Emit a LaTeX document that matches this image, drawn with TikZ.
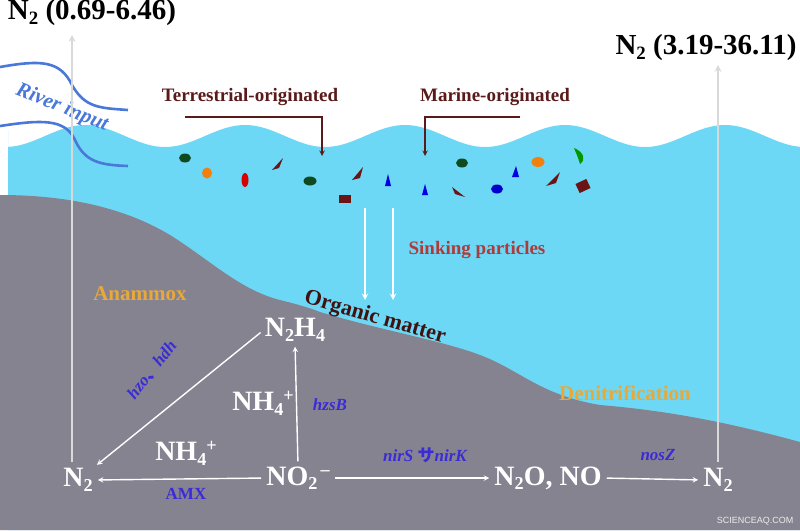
\documentclass[tikz,border=0pt]{standalone}
\usepackage{fontspec}
\setmainfont{Liberation Serif}
\newfontfamily\cjkjp{Noto Sans CJK JP}
\newfontfamily\sansf{Liberation Sans}
\newcommand{\sbs}[1]{\raisebox{-0.35ex}{\scalebox{0.65}{#1}}}
\newcommand{\sps}[1]{\raisebox{0.75ex}{\scalebox{0.65}{#1}}}
\definecolor{water}{HTML}{6DD8F5}
\definecolor{ground}{HTML}{858390}
\definecolor{brownt}{HTML}{5A1A1A}
\definecolor{redt}{HTML}{B03A3A}
\definecolor{oranget}{HTML}{E8A83A}
\definecolor{bluet}{HTML}{3A2AD8}
\definecolor{rivert}{HTML}{4A78D8}
\definecolor{pgreen}{HTML}{0E4A1E}
\definecolor{pdark}{HTML}{6A1414}
\begin{document}
\begin{tikzpicture}[x=1pt,y=-1pt,
  chem/.style={text=white,font=\fontsize{28}{30}\selectfont\bfseries,inner sep=1pt},
  gene/.style={text=bluet,font=\fontsize{17}{19}\selectfont\bfseries\itshape},
  lbl/.style={font=\fontsize{19}{21}\selectfont\bfseries},
  warr/.style={white,line width=1.4pt,-stealth,shorten >=4pt,shorten <=4pt},
  garr/.style={black!15,line width=2pt,-stealth}]
\useasboundingbox (0,0) rectangle (800,530);
% water
\fill[water] (8,130) -- plot[domain=8:800,samples=120,smooth] (\x,{136+11*cos(2.25*(\x-85)+180)}) -- (800,530) -- (8,530) -- cycle;
% ground
\fill[ground] (0,195) .. controls (60,195) and (120,205) .. (170,235)
  .. controls (210,260) and (240,290) .. (280,300)
  .. controls (300,305) and (310,308) .. (320,312)
  .. controls (380,330) and (440,340) .. (480,355)
  .. controls (520,370) and (540,395) .. (600,405)
  .. controls (660,410) and (720,420) .. (800,442) -- (800,530) -- (0,530) -- cycle;
% river
\draw[rivert,line width=2.6pt] (0,67) .. controls (40,60) and (60,60) .. (72,85) .. controls (85,108) and (100,108) .. (128,110);
\draw[rivert,line width=2.6pt] (0,126) .. controls (40,120) and (65,118) .. (75,140) .. controls (85,162) and (100,165) .. (128,166);
\node[text=rivert,font=\fontsize{21}{23}\selectfont\bfseries\itshape,rotate=-22] (river) at (62,108) {River input};
% gray arrows
\coordinate (lb) at (72,462); \coordinate (lt) at (72,35);
\coordinate (rb) at (718,462); \coordinate (rt) at (718,65);
\draw[garr] (lb) -- (lt);
\draw[garr] (rb) -- (rt);
\node[font=\fontsize{29}{31}\selectfont\bfseries] (t1) at (92,13) {N\sbs{2} (0.69-6.46)};
\node[font=\fontsize{29}{31}\selectfont\bfseries] (t2) at (706,48) {N\sbs{2} (3.19-36.11)};
% origin labels
\node[lbl,text=brownt] (terr) at (250,97) {Terrestrial-originated};
\node[lbl,text=brownt] (mar) at (495,97) {Marine-originated};
\coordinate (ta) at (185,117); \coordinate (tb) at (322,117); \coordinate (tc) at (322,156);
\coordinate (ma) at (520,117); \coordinate (mb) at (425,117); \coordinate (mc) at (425,156);
\draw[brownt,line width=1.4pt,-stealth] (ta) -- (tb) -- (tc);
\draw[brownt,line width=1.4pt,-stealth] (ma) -- (mb) -- (mc);
% particles
\fill[pgreen] (185,158) ellipse (6 and 4.5);
\fill[orange!80!brown] (207,173) ellipse (5 and 5.5);
\fill[red!85!black] (245,180) ellipse (3.5 and 7);
\fill[pdark] (272,170) -- (283,158) -- (279,168) -- cycle;
\fill[pgreen] (310,181) ellipse (6.5 and 4.5);
\fill[pdark] (339,195) rectangle (351,203);
\fill[pdark] (352,180) -- (363,167) -- (360,178) -- cycle;
\fill[blue!90!black] (385,186) -- (388,174) -- (391,186) -- cycle;
\fill[blue!90!black] (422,195) -- (425,184) -- (428,195) -- cycle;
\fill[pdark] (452,187) -- (465,197) -- (455,194) -- cycle;
\fill[pgreen] (462,163) ellipse (6 and 4.5);
\fill[blue!80!black] (497,189) ellipse (6 and 4.5);
\fill[blue!90!black] (512,177) -- (516,166) -- (519,177) -- cycle;
\fill[orange!80!brown] (538,162) ellipse (6.5 and 5);
\fill[green!60!black] (574,148) .. controls (584,152) and (586,160) .. (580,164) .. controls (578,157) and (576,153) .. (574,148);
\fill[pdark] (546,186) -- (560,172) -- (556,183) -- cycle;
\fill[pdark,rotate around={25:(583,186)}] (577,181) rectangle (589,191);
% sinking
\coordinate (s1a) at (365,208); \coordinate (s1b) at (365,300);
\coordinate (s2a) at (393,208); \coordinate (s2b) at (393,300);
\draw[white,-stealth,line width=1.8pt] (s1a) -- (s1b);
\draw[white,-stealth,line width=1.8pt] (s2a) -- (s2b);
\node[lbl,text=redt] (sink) at (477,250) {Sinking particles};
\node[font=\fontsize{22}{24}\selectfont\bfseries,text=brownt!70!black,rotate=-16] (om) at (375,318) {Organic matter};
\node[font=\fontsize{21}{23}\selectfont\bfseries,text=oranget] (ana) at (140,294) {Anammox};
\node[font=\fontsize{21}{23}\selectfont\bfseries,text=oranget] (den) at (625,393) {Denitrification};
% chemistry
\node[chem] (n2h4) at (295,330) {N\sbs{2}H\sbs{4}};
\node[chem] (nh4a) at (263,403) {NH\sbs{4}\sps{+}};
\node[gene] (hzsb) at (330,405) {hzsB};
\node[chem] (n2l) at (78,480) {N\sbs{2}};
\node[chem] (nh4b) at (186,453) {NH\sbs{4}\sps{+}};
\node[text=bluet,font=\fontsize{17}{19}\selectfont\bfseries] (amx) at (186,494) {AMX};
\node[chem] (no2) at (298,478) {NO\sbs{2}\sps{\,--}};
\node[chem] (n2o) at (548,478) {N\sbs{2}O, NO};
\node[chem] (n2r) at (718,480) {N\sbs{2}};
\node[gene] (nir) at (425,455) {nirS {\cjkjp\upshape サ}nirK};
\node[gene] (nos) at (658,455) {nosZ};
\node[gene,rotate=52] (hzo) at (152,370) {hzo{\cjkjp\upshape 、}hdh};
\draw[warr] (n2h4.west) -- (n2l.north east);
\draw[warr] (no2.north) -- (n2h4.south);
\draw[warr] (no2.west) -- (n2l.east);
\draw[warr] (no2.east) -- (n2o.west);
\draw[warr] (n2o.east) -- (n2r.west);
\node[font=\sansf\fontsize{9}{10}\selectfont,text=white!85!gray] (wm) at (755,521) {SCIENCEAQ.COM};
\end{tikzpicture}
\end{document}
